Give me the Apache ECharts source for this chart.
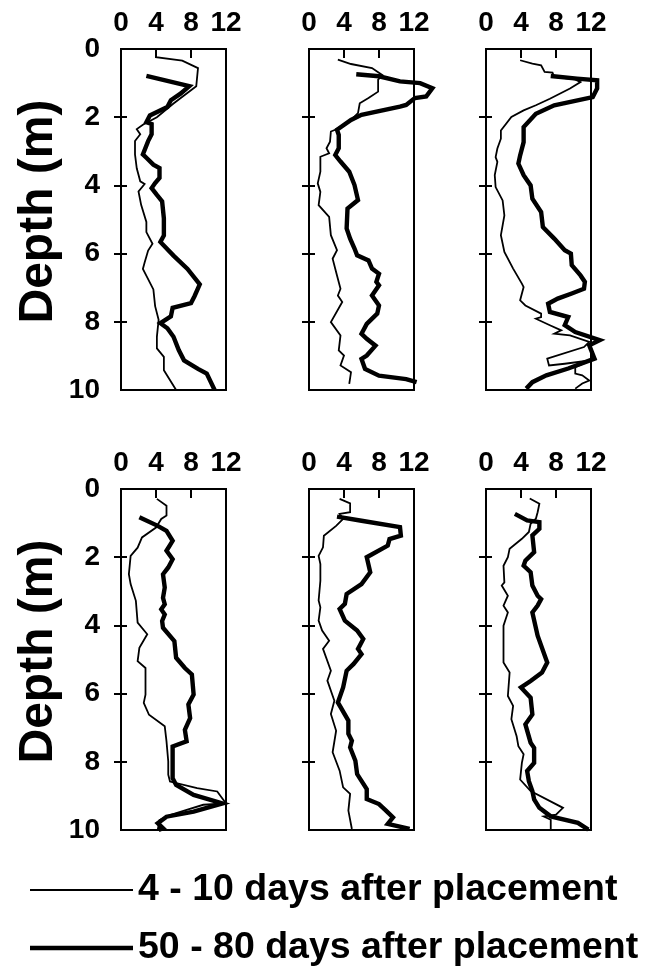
<!DOCTYPE html>
<html>
<head>
<meta charset="utf-8">
<script src="https://cdn.jsdelivr.net/npm/echarts@6/dist/echarts.min.js"></script>
<style>
  html, body { margin: 0; padding: 0; background: #fff; }
  #chart { width: 645px; height: 972px; }
</style>
</head>
<body>
<div id="chart"></div>
<script>
// Axis tick labels
const valueTicks = [0, 4, 8, 12];
const depthTicks = [0, 2, 4, 6, 8, 10];
const seriesNames = ['4 - 10 days after placement', '50 - 80 days after placement'];

// Profiles: [value, depth (m)]
const p1Early = [[4.0,0],[4.0,0.24],[7.0,0.34],[8.8,0.56],[8.6,1.09],[6.0,1.6],[4.1,2.0],[2.5,2.22],[1.8,2.35],[2.2,2.5],[1.6,2.7],[1.6,3.09],[1.8,3.5],[2.2,3.88],[2.7,3.96],[2.0,4.18],[2.3,4.57],[2.9,5.07],[2.9,5.37],[3.6,5.71],[3.1,5.91],[2.7,6.26],[2.5,6.45],[3.7,7.05],[3.9,7.54],[4.3,7.94],[4.1,8.44],[4.1,8.78],[4.9,9.03],[4.9,9.42],[6.3,10.0]];
const p1Late = [[2.9,0.79],[7.8,1.09],[6.8,1.31],[5.7,1.5],[5.3,1.7],[3.3,1.95],[2.9,2.15],[3.5,2.2],[3.5,2.5],[3.1,2.7],[2.5,3.09],[2.9,3.19],[3.7,3.39],[4.4,3.49],[4.4,3.78],[3.9,3.93],[3.5,4.08],[4.1,4.28],[4.7,4.47],[4.9,4.97],[4.9,5.47],[4.5,5.66],[6.0,6.06],[7.6,6.45],[9.0,6.9],[8.4,7.25],[8.0,7.45],[5.9,7.59],[5.7,7.84],[4.5,8.04],[5.3,8.19],[6.0,8.44],[6.6,8.83],[7.2,9.13],[8.8,9.38],[9.8,9.52],[10.7,10.0]];

const p2Early = [[3.3,0.31],[4.8,0.44],[7.2,0.56],[8.4,0.77],[7.9,0.9],[7.9,1.25],[6.8,1.44],[5.8,1.59],[5.6,1.88],[4.8,2.08],[3.0,2.37],[2.5,2.42],[2.4,2.72],[2.0,2.91],[2.3,3.06],[1.3,3.16],[1.3,3.6],[1.0,3.94],[1.3,4.19],[1.1,4.58],[2.3,4.92],[2.5,5.46],[3.2,5.9],[2.7,6.15],[3.2,6.64],[3.6,7.03],[3.3,7.23],[3.8,7.42],[2.5,8.01],[3.6,8.4],[3.4,8.84],[4.0,8.99],[3.6,9.28],[4.8,9.48],[4.6,9.82]];
const p2Late = [[5.4,0.74],[8.0,0.8],[10.4,0.95],[12.7,1.0],[14.1,1.15],[13.4,1.39],[12.1,1.44],[11.1,1.64],[10.4,1.69],[6.0,1.93],[4.8,2.08],[3.2,2.37],[3.4,2.52],[3.4,2.91],[3.0,3.11],[3.6,3.3],[4.6,3.6],[5.2,3.99],[5.6,4.43],[4.4,4.68],[4.3,5.26],[4.7,5.56],[5.2,5.85],[5.5,6.05],[6.8,6.2],[7.2,6.44],[8.0,6.59],[7.7,6.83],[8.0,6.93],[7.2,7.23],[8.0,7.52],[7.8,7.76],[6.6,8.06],[6.0,8.35],[6.6,8.5],[7.6,8.7],[6.6,8.99],[6.0,9.09],[6.4,9.38],[8.0,9.58],[11.1,9.68],[12.3,9.77]];

const p3Early = [[3.9,0.33],[5.3,0.43],[6.3,0.48],[6.7,0.67],[7.6,0.69],[7.8,0.82],[10.2,0.89],[10.8,0.97],[9.6,1.16],[7.3,1.46],[5.7,1.65],[4.3,1.8],[2.9,1.99],[1.7,2.39],[1.7,2.63],[1.3,2.92],[1.1,3.17],[1.3,3.31],[1.0,3.7],[1.1,4.05],[1.9,4.44],[2.1,4.88],[1.9,5.17],[1.7,5.46],[2.1,5.95],[3.1,6.44],[4.1,6.88],[4.3,6.98],[3.9,7.37],[4.5,7.52],[6.3,7.76],[6.3,7.86],[5.7,7.91],[7.3,8.1],[8.6,8.25],[7.8,8.35],[9.6,8.4],[11.8,8.59],[11.2,8.74],[7.0,9.08],[7.2,9.28],[9.0,9.23],[12.0,9.13],[10.2,9.33],[10.2,9.52],[11.0,9.57],[11.8,9.72],[11.0,9.81],[10.2,9.96]];
const p3Late = [[7.4,0.79],[10.4,0.87],[12.7,0.92],[12.7,1.16],[12.2,1.41],[7.8,1.65],[5.7,1.9],[4.3,2.29],[4.3,2.73],[3.9,3.12],[3.7,3.36],[4.3,3.7],[5.1,4.0],[5.3,4.39],[6.3,4.78],[6.5,5.22],[7.8,5.56],[9.0,5.9],[9.7,6.0],[9.8,6.34],[10.8,6.64],[11.3,6.83],[11.2,7.03],[9.8,7.17],[8.2,7.32],[7.1,7.47],[7.3,7.71],[9.4,7.86],[9.0,8.1],[10.2,8.3],[13.0,8.54],[11.8,8.69],[12.4,9.08],[9.4,9.37],[6.9,9.57],[5.3,9.77],[4.6,9.96]];

const p4Early = [[4.1,0.29],[5.2,0.49],[5.2,0.78],[4.6,0.88],[4.0,1.13],[2.4,1.42],[1.9,1.72],[1.1,1.96],[0.9,2.5],[1.1,2.79],[1.7,3.28],[1.9,3.92],[3.0,4.26],[2.1,4.66],[1.9,5.05],[2.8,5.25],[2.8,6.03],[2.6,6.27],[3.2,6.62],[5.0,6.96],[5.2,7.4],[5.4,7.99],[5.4,8.38],[5.6,8.58],[8.7,8.77],[11.0,8.87],[12.0,9.22],[9.4,9.26],[5.6,9.56],[4.4,9.71],[4.2,10.0]];
const p4Late = [[2.1,0.83],[4.2,1.08],[5.2,1.23],[5.9,1.52],[5.2,1.81],[5.9,2.06],[5.4,2.3],[4.8,2.5],[5.0,2.89],[4.8,3.19],[5.0,3.38],[4.6,3.53],[5.0,3.68],[4.7,3.87],[4.8,4.07],[6.1,4.46],[6.3,4.95],[7.3,5.25],[8.1,5.44],[8.3,6.03],[7.7,6.32],[7.9,6.72],[7.3,7.06],[7.5,7.4],[5.9,7.55],[5.9,7.99],[5.9,8.48],[6.3,8.68],[8.3,8.97],[11.6,9.22],[8.3,9.46],[5.2,9.61],[4.2,9.8],[4.8,9.95],[4.3,10.0]];

const p5Early = [[3.5,0.29],[4.7,0.42],[4.7,0.68],[3.5,0.73],[3.9,0.88],[3.1,1.08],[1.7,1.37],[1.6,1.71],[1.1,1.96],[1.3,2.2],[1.3,2.69],[1.1,3.27],[1.3,3.47],[1.1,3.86],[1.5,4.15],[2.3,4.45],[1.6,4.69],[2.5,5.33],[2.1,5.62],[2.9,6.21],[2.5,6.6],[3.1,7.09],[2.7,7.72],[3.5,8.26],[3.9,8.75],[4.7,8.94],[4.5,9.43],[4.9,9.97]];
const p5Late = [[3.2,0.81],[6.0,0.93],[10.4,1.12],[10.5,1.37],[9.2,1.47],[9.0,1.66],[6.6,2.0],[7.0,2.44],[6.0,2.79],[4.3,3.08],[4.1,3.37],[3.5,3.52],[4.1,3.86],[5.5,4.15],[6.2,4.4],[5.6,4.69],[6.0,4.84],[5.1,5.13],[4.3,5.33],[3.9,5.82],[3.3,6.26],[4.5,6.79],[4.5,7.18],[4.9,7.38],[4.7,7.58],[5.3,7.97],[5.5,8.36],[6.6,8.8],[6.6,9.09],[8.0,9.24],[8.8,9.43],[9.6,9.63],[9.0,9.82],[11.5,9.97]];

const p6Early = [[5.0,0.28],[6.1,0.43],[5.9,0.68],[5.7,0.87],[5.1,1.02],[4.9,1.26],[4.1,1.46],[2.7,1.75],[2.5,2.0],[2.0,2.25],[2.1,2.74],[1.8,2.83],[2.5,3.13],[2.0,3.42],[2.5,3.62],[2.0,4.01],[2.0,4.5],[2.0,5.09],[2.7,5.38],[2.5,6.07],[3.1,6.36],[2.9,6.75],[3.5,7.25],[3.7,7.54],[4.3,7.78],[4.1,8.03],[3.9,8.52],[5.1,8.86],[8.8,9.35],[8.0,9.55],[6.6,9.6],[7.4,9.7],[7.4,10.0]];
const p6Late = [[3.3,0.73],[4.7,0.92],[6.1,0.97],[6.1,1.17],[5.3,1.36],[5.5,1.85],[4.5,2.1],[4.3,2.25],[5.1,2.44],[5.3,2.83],[5.9,3.13],[6.3,3.23],[5.9,3.42],[5.3,3.62],[5.9,4.3],[7.0,5.09],[6.4,5.38],[5.1,5.63],[4.0,5.82],[5.1,6.12],[5.3,6.61],[4.5,6.9],[5.1,7.44],[5.5,7.59],[5.5,8.03],[4.7,8.27],[4.9,8.57],[5.3,8.86],[5.5,9.1],[6.1,9.35],[7.4,9.6],[10.5,9.79],[11.7,9.99]];

const panels = [
  [p1Early, p1Late], [p2Early, p2Late], [p3Early, p3Late],
  [p4Early, p4Late], [p5Early, p5Late], [p6Early, p6Late]
];

const font = 'Liberation Sans, Arial, Helvetica, sans-serif';
const colLeft = [121, 309, 486];
const rowTop = [49, 489];
const boxW = 105;          // width of the framed 0-12 range
const panelH = 341;
const xSpan = 15;          // room on the right for profiles that run past 12
const thinW = 1.8;
const thickW = 4.4;
const xMin = valueTicks[0], xMax = valueTicks[valueTicks.length - 1];
const dMin = depthTicks[0], dMax = depthTicks[depthTicks.length - 1];

const grids = [], xAxes = [], yAxes = [], series = [];
panels.forEach((pair, i) => {
  const row = Math.floor(i / 3), col = i % 3;
  grids.push({
    left: colLeft[col], top: rowTop[row],
    width: boxW * (xSpan - xMin) / (xMax - xMin), height: panelH,
    show: false
  });
  xAxes.push({
    type: 'value', gridIndex: i, position: 'top',
    min: xMin, max: xSpan, interval: 4,
    axisLine: { show: false },
    axisTick: { show: true, inside: true, length: 9, customValues: valueTicks.slice(1, -1),
      lineStyle: { color: '#000', width: 2 } },
    axisLabel: { show: true, margin: 12, color: '#000', fontSize: 28, fontWeight: 'bold', fontFamily: font,
      customValues: valueTicks },
    splitLine: { show: false }
  });
  // outer half of the depth ticks, plus labels and title
  yAxes.push({
    type: 'value', gridIndex: i, inverse: true, position: 'left',
    min: dMin, max: dMax, interval: 2,
    axisLine: { show: false },
    axisTick: { show: true, inside: false, length: 7, customValues: depthTicks.slice(1, -1),
      lineStyle: { color: '#000', width: 2 } },
    axisLabel: { show: col === 0, margin: 21, color: '#000', fontSize: 28, fontWeight: 'bold', fontFamily: font,
      customValues: depthTicks },
    splitLine: { show: false },
    name: col === 0 ? 'Depth (m)' : '',
    nameLocation: 'middle', nameGap: 58,
    nameTextStyle: { color: '#000', fontSize: 48, fontWeight: 'bold', fontFamily: font, padding: [0, 0, 0, 16] }
  });
  // inner half of the depth ticks
  yAxes.push({
    type: 'value', gridIndex: i, inverse: true, position: 'left',
    min: dMin, max: dMax, interval: 2,
    axisLine: { show: false },
    axisTick: { show: true, inside: true, length: 6, customValues: depthTicks.slice(1, -1),
      lineStyle: { color: '#000', width: 2 } },
    axisLabel: { show: false },
    splitLine: { show: false }
  });
  pair.forEach((data, k) => {
    const s = {
      type: 'line', name: seriesNames[k],
      xAxisIndex: i, yAxisIndex: i * 2,
      data: data, symbol: 'none', clip: false, smooth: false,
      lineStyle: { color: '#000', width: k === 0 ? thinW : thickW, join: 'miter' },
      itemStyle: { color: '#000' },
      z: 3
    };
    if (k === 0) {
      // panel frame spanning the 0-12 by 0-10 m range
      s.markArea = {
        silent: true,
        itemStyle: { color: 'rgba(0,0,0,0)', borderColor: '#000', borderWidth: 2 },
        data: [[{ coord: [xMin, dMin] }, { coord: [xMax, dMax] }]]
      };
    }
    series.push(s);
  });
});

const legendText = { color: '#000', fontSize: 37.5, fontWeight: 'bold', fontFamily: font, lineHeight: 40 };
const chart = echarts.init(document.getElementById('chart'));
chart.setOption({
  animation: false,
  backgroundColor: '#fff',
  grid: grids,
  xAxis: xAxes,
  yAxis: yAxes,
  legend: [
    { data: [{ name: seriesNames[0], icon: 'rect', itemStyle: { color: '#000' } }],
      left: 25, top: 865, itemWidth: 103, itemHeight: thinW, itemGap: 0,
      selectedMode: false, textStyle: legendText },
    { data: [{ name: seriesNames[1], icon: 'rect', itemStyle: { color: '#000' } }],
      left: 25, top: 923, itemWidth: 103, itemHeight: thickW, itemGap: 0,
      selectedMode: false, textStyle: legendText }
  ],
  series: series
});
</script>
</body>
</html>
